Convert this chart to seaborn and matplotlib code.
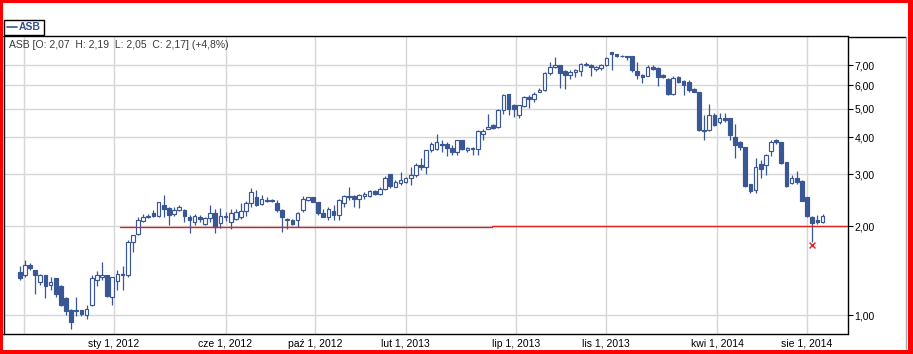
import numpy as np
import pandas as pd
import matplotlib
matplotlib.use("Agg")
import matplotlib.pyplot as plt
import matplotlib.dates as mdates
from matplotlib.patches import Rectangle
from matplotlib.lines import Line2D
import seaborn as sns

# ---------------- data (weekly candles, ASB) ----------------
ticker = "ASB"
first_week = "2011-08-26"

opens = [1.40, 1.37, 1.48, 1.42, 1.29, 1.37, 1.26, 1.33, 1.25, 1.14,
         1.04, 1.03, 1.04, 1.00, 1.08, 1.31, 1.35, 1.37, 1.15, 1.30,
         1.38, 1.37, 1.77, 1.88, 2.08, 2.14, 2.22, 2.16, 2.35, 2.31,
         2.19, 2.26, 2.26, 2.15, 2.07, 2.15, 2.03, 2.13, 2.21, 2.05,
         2.14, 2.07, 2.11, 2.15, 2.25, 2.40, 2.50, 2.37, 2.46, 2.45,
         2.39, 2.26, 2.10, 2.10, 2.09, 2.26, 2.45, 2.50, 2.42, 2.21,
         2.15, 2.25, 2.18, 2.40, 2.50, 2.52, 2.47, 2.52, 2.52, 2.63,
         2.56, 2.68, 3.00, 2.72, 2.80, 2.82, 2.90, 2.97, 3.23, 3.16,
         3.61, 3.66, 3.80, 3.78, 3.69, 3.57, 3.92, 3.63, 3.69, 3.66,
         4.09, 4.25, 4.39, 4.33, 4.96, 5.58, 5.13, 4.77, 5.10, 5.47,
         5.40, 5.70, 5.78, 6.61, 6.89, 7.00, 6.68, 6.51, 6.66, 6.68,
         7.04, 7.04, 6.83, 6.88, 7.05, 7.76, 7.64, 7.56, 7.52, 7.52,
         6.68, 6.51, 6.47, 6.91, 6.85, 6.51, 6.31, 5.61, 6.39, 6.19,
         6.15, 5.84, 5.69, 4.19, 4.22, 4.74, 4.50, 4.66, 4.63, 4.01,
         3.85, 3.72, 2.77, 2.65, 3.24, 3.21, 3.59, 3.92, 3.85, 3.30,
         2.80, 2.90, 2.84, 2.50, 2.15, 2.09, 2.07]
highs = [1.46, 1.54, 1.50, 1.42, 1.38, 1.37, 1.34, 1.33, 1.26, 1.15,
         1.05, 1.15, 1.04, 1.08, 1.37, 1.41, 1.51, 1.37, 1.34, 1.42,
         1.46, 1.79, 1.87, 2.15, 2.20, 2.20, 2.26, 2.42, 2.54, 2.32,
         2.32, 2.35, 2.29, 2.18, 2.19, 2.18, 2.15, 2.35, 2.29, 2.30,
         2.24, 2.29, 2.29, 2.39, 2.43, 2.69, 2.65, 2.54, 2.51, 2.48,
         2.45, 2.29, 2.13, 2.12, 2.23, 2.52, 2.51, 2.51, 2.42, 2.29,
         2.32, 2.35, 2.48, 2.54, 2.71, 2.54, 2.56, 2.60, 2.65, 2.65,
         2.71, 2.95, 3.00, 2.86, 3.05, 2.93, 3.17, 3.26, 3.39, 3.61,
         3.85, 4.11, 3.90, 3.85, 3.75, 3.92, 3.92, 3.70, 3.70, 4.22,
         4.25, 4.80, 4.45, 5.00, 5.58, 5.60, 5.20, 5.15, 5.51, 5.54,
         5.69, 5.87, 6.64, 7.18, 7.47, 7.05, 6.73, 6.73, 6.82, 7.15,
         7.20, 7.07, 6.96, 7.09, 7.47, 7.80, 7.68, 7.62, 7.56, 7.56,
         7.18, 6.56, 7.00, 7.00, 6.91, 6.57, 6.35, 6.44, 6.44, 6.23,
         6.23, 5.86, 5.69, 4.75, 5.17, 4.83, 4.83, 4.83, 4.66, 4.42,
         3.87, 3.72, 2.77, 3.39, 3.34, 3.50, 3.92, 3.95, 3.85, 3.30,
         2.97, 3.07, 2.86, 2.50, 2.16, 2.18, 2.19]
lows = [1.31, 1.35, 1.42, 1.18, 1.26, 1.14, 1.22, 1.15, 1.07, 1.00,
        0.90, 0.99, 0.99, 0.97, 1.07, 1.25, 1.31, 1.15, 1.08, 1.22,
        1.22, 1.35, 1.64, 1.86, 2.07, 2.13, 2.15, 2.15, 2.15, 2.02,
        2.16, 2.25, 2.07, 1.89, 2.02, 2.07, 2.02, 2.07, 1.89, 1.97,
        2.08, 1.96, 2.10, 2.12, 2.17, 2.32, 2.34, 2.35, 2.42, 2.42,
        2.24, 1.91, 1.96, 2.02, 1.99, 2.24, 2.43, 2.41, 2.18, 2.14,
        2.10, 2.10, 2.10, 2.32, 2.45, 2.32, 2.31, 2.48, 2.51, 2.54,
        2.54, 2.65, 2.70, 2.71, 2.75, 2.79, 2.75, 2.94, 3.09, 3.00,
        3.57, 3.61, 3.57, 3.45, 3.47, 3.47, 3.61, 3.57, 3.47, 3.47,
        3.92, 4.25, 4.28, 4.31, 4.81, 4.74, 4.68, 4.65, 5.07, 5.04,
        5.26, 5.69, 5.73, 6.51, 6.85, 5.86, 5.82, 6.31, 6.39, 6.44,
        6.96, 6.47, 6.68, 6.73, 6.96, 6.73, 7.45, 7.45, 7.33, 6.64,
        6.31, 6.12, 6.44, 6.73, 5.96, 6.37, 5.57, 5.54, 6.12, 5.54,
        5.69, 5.67, 4.19, 3.90, 4.19, 4.35, 4.45, 4.50, 3.90, 3.39,
        3.61, 2.71, 2.59, 2.59, 2.92, 2.97, 3.45, 3.80, 3.25, 2.71,
        2.78, 2.78, 2.43, 2.15, 1.77, 2.04, 2.05]
closes = [1.33, 1.48, 1.44, 1.37, 1.37, 1.25, 1.29, 1.18, 1.08, 1.03,
          0.95, 1.04, 1.01, 1.05, 1.33, 1.37, 1.37, 1.16, 1.34, 1.38,
          1.37, 1.77, 1.86, 2.10, 2.15, 2.17, 2.16, 2.41, 2.29, 2.18,
          2.26, 2.32, 2.17, 2.10, 2.17, 2.11, 2.13, 2.21, 1.99, 2.17,
          2.16, 2.21, 2.24, 2.25, 2.40, 2.61, 2.35, 2.48, 2.44, 2.43,
          2.26, 2.15, 2.12, 2.04, 2.21, 2.48, 2.50, 2.42, 2.21, 2.15,
          2.29, 2.18, 2.45, 2.52, 2.52, 2.47, 2.54, 2.56, 2.63, 2.56,
          2.68, 2.92, 2.73, 2.82, 2.86, 2.90, 2.97, 3.21, 3.16, 3.61,
          3.80, 3.85, 3.75, 3.69, 3.57, 3.90, 3.65, 3.69, 3.65, 4.19,
          4.19, 4.33, 4.31, 4.96, 5.54, 4.98, 5.00, 5.13, 5.47, 5.40,
          5.61, 5.80, 6.61, 6.91, 7.05, 6.61, 6.51, 6.66, 6.73, 7.09,
          7.09, 6.94, 6.94, 7.05, 7.41, 7.64, 7.53, 7.51, 7.45, 6.73,
          6.51, 6.39, 6.91, 6.82, 6.39, 6.39, 5.61, 6.35, 6.15, 5.99,
          5.76, 5.69, 4.22, 4.23, 4.74, 4.39, 4.66, 4.56, 4.06, 3.75,
          3.72, 2.73, 2.62, 3.17, 3.11, 3.47, 3.85, 3.85, 3.26, 2.73,
          2.90, 2.82, 2.43, 2.16, 2.05, 2.07, 2.17]

info_text = "ASB [O: 2,07  H: 2,19  L: 2,05  C: 2,17] (+4,8%)"

x_tick_dates = ["2011-09-01", "2012-01-01", "2012-06-01", "2012-10-01",
                "2013-02-01", "2013-07-01", "2013-11-01", "2014-04-01",
                "2014-08-01"]
x_tick_labels = ["", "sty 1, 2012", "cze 1, 2012", "paź 1, 2012",
                 "lut 1, 2013", "lip 1, 2013", "lis 1, 2013",
                 "kwi 1, 2014", "sie 1, 2014"]
y_ticks = [1, 2, 3, 4, 5, 6, 7]
y_tick_labels = ["1,00", "2,00", "3,00", "4,00", "5,00", "6,00", "7,00"]

# support line (two segments) and low marker
support_starts = ["2012-01-10", "2013-05-29"]
support_ends = ["2013-05-29", "2014-09-26"]
support_levels = [1.98, 1.995]
low_mark_date = "2014-08-08"
low_mark_value = 1.72

# ---------------- style ----------------
sns.set_style("white")
plt.rcParams["font.family"] = ["Liberation Sans", "DejaVu Sans"]

W, H = 913, 354
fig = plt.figure(figsize=(W / 100, H / 100), dpi=100)
fig.patch.set_facecolor("white")

def fx(px):
    return px / W

def fy(py):
    return 1 - py / H

ax_l, ax_r, ax_t, ax_b = 3.5, 847.5, 36.5, 334.0
ax = fig.add_axes([fx(ax_l), fy(ax_b), fx(ax_r - ax_l), (ax_b - ax_t) / H])

BLUE = "#3a5795"
dates = pd.date_range(first_week, periods=len(opens), freq="7D")
xn = mdates.date2num(dates)
df = pd.DataFrame({"x": xn, "open": opens, "high": highs, "low": lows, "close": closes})

ax.set_yscale("log")

# wicks
ax.vlines(df["x"], df["low"], df["high"], color=BLUE, linewidth=0.9, zorder=2)
# bodies
bottoms = np.minimum(df["open"], df["close"])
heights = np.maximum(np.abs(df["close"] - df["open"]), 0.004)
faces = np.where(df["close"] < df["open"], BLUE, "white")
ax.bar(df["x"], heights, bottom=bottoms, width=5.0, color=faces,
       edgecolor=BLUE, linewidth=0.85, zorder=3, align="center")

# support line
for s, e, lv in zip(support_starts, support_ends, support_levels):
    xs = mdates.date2num(pd.to_datetime([s, e]))
    sns.lineplot(x=list(xs), y=[lv, lv], ax=ax, color="#e02020",
                 linewidth=1.0, estimator=None, zorder=4)

# low marker
sns.scatterplot(x=[mdates.date2num(pd.Timestamp(low_mark_date))], y=[low_mark_value],
                ax=ax, marker="x", s=18, color="#e02020", linewidth=1.0, zorder=5)

# axes limits / ticks
ax.set_xlim(mdates.date2num(pd.Timestamp("2011-08-04")),
            mdates.date2num(pd.Timestamp("2014-09-25")))
ax.set_ylim(0.8625, 8.77)

ax.set_xticks(mdates.date2num(pd.to_datetime(x_tick_dates)))
ax.set_xticklabels(x_tick_labels)
ax.set_yticks(y_ticks)
ax.set_yticklabels(y_tick_labels)
ax.yaxis.set_minor_locator(matplotlib.ticker.NullLocator())
ax.xaxis.set_minor_locator(matplotlib.ticker.NullLocator())
ax.yaxis.tick_right()
ax.tick_params(axis="y", which="major", direction="out", length=3.5, width=0.8,
               pad=1.5, labelsize=7.5, colors="black", left=False, right=True)
ax.tick_params(axis="x", which="major", direction="out", length=2.5, width=0.8,
               pad=0.8, labelsize=7.5, colors="black")
ax.set_xlabel("")
ax.set_ylabel("")

ax.grid(True, color="#d6d6d6", linewidth=1.0)
ax.set_axisbelow(True)
for sp in ax.spines.values():
    sp.set_color("black")
    sp.set_linewidth(1.0)
    sp.set_visible(True)

ax.text(0.006, 0.973, info_text, transform=ax.transAxes, fontsize=7.5,
        color="#3a3a3a", va="center", ha="left")

# panel frame
fig.add_artist(Line2D([fx(847.5), fx(905.5)], [fy(36.5), fy(36.5)],
                      color="black", linewidth=1.0, transform=fig.transFigure))
fig.add_artist(Line2D([fx(905.5), fx(905.5)], [fy(36.5), fy(349)],
                      color="#a8a8a8", linewidth=1.0, transform=fig.transFigure))

# legend box
fig.add_artist(Rectangle((fx(3.5), fy(35)), fx(40), 15.5 / H, facecolor="white",
                         edgecolor="black", linewidth=1.0, transform=fig.transFigure))
fig.add_artist(Line2D([fx(7), fx(17)], [fy(26.8), fy(26.8)], color=BLUE,
                      linewidth=1.2, transform=fig.transFigure))
fig.text(fx(18.5), fy(27.3), ticker, fontsize=7.5, fontweight="bold",
         color="#33508c", va="center", ha="left")

# red outer border
RED = "#ff0000"
for (x0, y0, w, h) in [(0, 0, 3, H), (0, 0, W, 3), (0, 349.5, W, 4.5), (908, 0, 5, H)]:
    fig.add_artist(Rectangle((fx(x0), fy(y0 + h)), fx(w), h / H, facecolor=RED,
                             edgecolor="none", transform=fig.transFigure))

fig.savefig("out.png", dpi=100)
